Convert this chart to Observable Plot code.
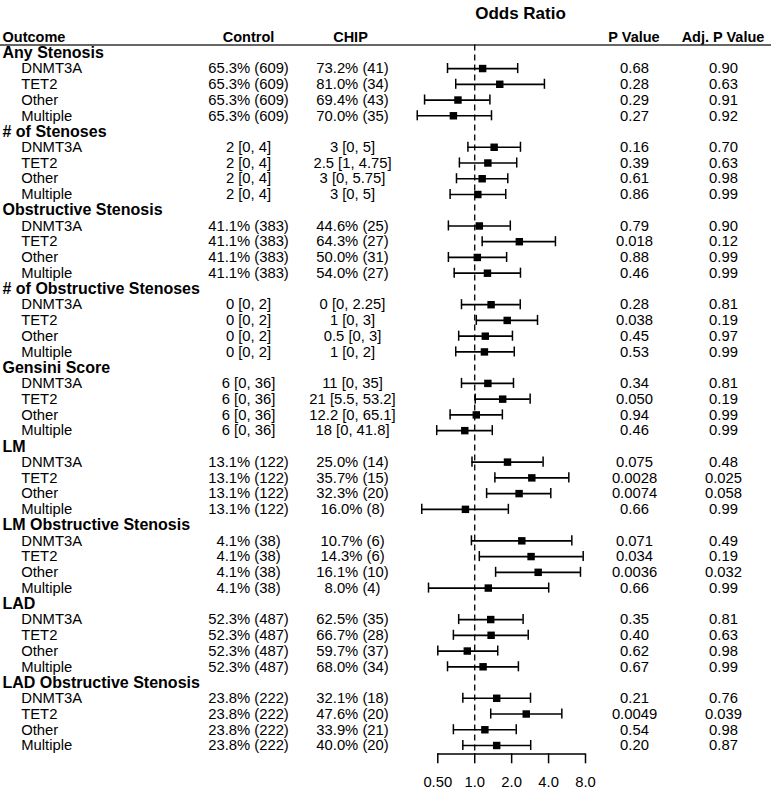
<!DOCTYPE html>
<html>
<head>
<meta charset="utf-8">
<script src="https://cdn.jsdelivr.net/npm/d3@7"></script>
<script src="https://cdn.jsdelivr.net/npm/@observablehq/plot@0.6"></script>
<style>
  html, body { margin: 0; padding: 0; background: #fff; }
  #chart svg { display: block; }
</style>
</head>
<body>
<div id="chart"></div>
<script>
const outcomes = ["Any Stenosis", "# of Stenoses", "Obstructive Stenosis", "# of Obstructive Stenoses",
  "Gensini Score", "LM", "LM Obstructive Stenosis", "LAD", "LAD Obstructive Stenosis"];
const subgroups = ["DNMT3A", "TET2", "Other", "Multiple"];
const controlValues = ["65.3% (609)", "2 [0, 4]", "41.1% (383)", "0 [0, 2]", "6 [0, 36]",
  "13.1% (122)", "4.1% (38)", "52.3% (487)", "23.8% (222)"];
const chipValues = [
  "73.2% (41)", "81.0% (34)", "69.4% (43)", "70.0% (35)",
  "3 [0, 5]", "2.5 [1, 4.75]", "3 [0, 5.75]", "3 [0, 5]",
  "44.6% (25)", "64.3% (27)", "50.0% (31)", "54.0% (27)",
  "0 [0, 2.25]", "1 [0, 3]", "0.5 [0, 3]", "1 [0, 2]",
  "11 [0, 35]", "21 [5.5, 53.2]", "12.2 [0, 65.1]", "18 [0, 41.8]",
  "25.0% (14)", "35.7% (15)", "32.3% (20)", "16.0% (8)",
  "10.7% (6)", "14.3% (6)", "16.1% (10)", "8.0% (4)",
  "62.5% (35)", "66.7% (28)", "59.7% (37)", "68.0% (34)",
  "32.1% (18)", "47.6% (20)", "33.9% (21)", "40.0% (20)"];
const orEstimate = [
  1.16, 1.60, 0.73, 0.67,
  1.44, 1.28, 1.15, 1.06,
  1.09, 2.31, 1.05, 1.27,
  1.36, 1.84, 1.22, 1.20,
  1.28, 1.69, 1.03, 0.83,
  1.85, 2.92, 2.30, 0.84,
  2.42, 2.88, 3.29, 1.29,
  1.35, 1.36, 0.87, 1.17,
  1.51, 2.63, 1.21, 1.51];
const orLower = [
  0.60, 0.70, 0.39, 0.34,
  0.88, 0.75, 0.71, 0.63,
  0.61, 1.15, 0.61, 0.68,
  0.78, 1.03, 0.74, 0.70,
  0.78, 1.01, 0.63, 0.49,
  0.95, 1.46, 1.25, 0.37,
  0.94, 1.09, 1.48, 0.42,
  0.74, 0.67, 0.50, 0.60,
  0.80, 1.35, 0.67, 0.80];
const orUpper = [
  2.24, 3.70, 1.33, 1.37,
  2.36, 2.20, 1.86, 1.79,
  1.95, 4.55, 1.82, 2.36,
  2.35, 3.25, 2.03, 2.10,
  2.07, 2.83, 1.68, 1.39,
  3.61, 5.85, 4.17, 1.88,
  6.19, 7.66, 7.28, 4.01,
  2.48, 2.73, 1.54, 2.27,
  2.85, 5.13, 2.18, 2.86];
const pValues = [
  "0.68", "0.28", "0.29", "0.27",
  "0.16", "0.39", "0.61", "0.86",
  "0.79", "0.018", "0.88", "0.46",
  "0.28", "0.038", "0.45", "0.53",
  "0.34", "0.050", "0.94", "0.46",
  "0.075", "0.0028", "0.0074", "0.66",
  "0.071", "0.034", "0.0036", "0.66",
  "0.35", "0.40", "0.62", "0.67",
  "0.21", "0.0049", "0.54", "0.20"];
const adjPValues = [
  "0.90", "0.63", "0.91", "0.92",
  "0.70", "0.63", "0.98", "0.99",
  "0.90", "0.12", "0.99", "0.99",
  "0.81", "0.19", "0.97", "0.99",
  "0.81", "0.19", "0.99", "0.99",
  "0.48", "0.025", "0.058", "0.99",
  "0.49", "0.19", "0.032", "0.99",
  "0.81", "0.63", "0.98", "0.99",
  "0.76", "0.039", "0.98", "0.87"];
const axisTicks = [0.5, 1, 2, 4, 8];
const tickLabels = ["0.50", "1.0", "2.0", "4.0", "8.0"];
const headers = ["Outcome", "Control", "CHIP", "P Value", "Adj. P Value"];

// Build table rows
const groupRows = [];
const dataRows = [];
outcomes.forEach((o, g) => {
  groupRows.push({row: g * 5, label: o});
  subgroups.forEach((s, k) => {
    const i = g * 4 + k;
    dataRows.push({
      row: g * 5 + k + 1, label: s, control: controlValues[g], chip: chipValues[i],
      est: orEstimate[i], lo: orLower[i], hi: orUpper[i], p: pValues[i], adj: adjPValues[i]
    });
  });
});
const lastRow = outcomes.length * 5 - 1;
const headerRow = -1;
const titleRow = -2.5;
const axisRow = lastRow + 0.54;

const FS = 14.8;
const colText = (key, dx, anchor, extra = {}) =>
  Plot.text(dataRows, {y: "row", text: key, frameAnchor: "left", dx, textAnchor: anchor, fontSize: FS, fill: "#000", ...extra});
const headerText = (i, dx, anchor) =>
  Plot.text([headers[i]], {y: () => headerRow, text: d => d, frameAnchor: "left", dx, textAnchor: anchor,
    fontSize: 14.5, fontWeight: "bold", fill: "#000"});

const chart = Plot.plot({
  width: 771,
  height: 792,
  marginTop: 0, marginLeft: 0, marginRight: 0,
  marginBottom: 38.7,
  style: {fontFamily: "'Liberation Sans', Arial, Helvetica, sans-serif", background: "#fff", color: "#000"},
  x: {type: "log", base: 2, domain: [0.5, 8], range: [437.3, 585]},
  y: {domain: [0, lastRow], range: [52.3, 745], axis: null},
  marks: [
    // title
    Plot.text(["Odds Ratio"], {y: () => titleRow, text: d => d, frameAnchor: "left", dx: 520, textAnchor: "middle",
      fontSize: 17, fontWeight: "bold", fill: "#000"}),
    // headers
    headerText(0, 2, "start"),
    headerText(1, 248, "middle"),
    headerText(2, 350, "middle"),
    headerText(3, 633.5, "middle"),
    headerText(4, 722.5, "middle"),
    Plot.ruleY([headerRow + 0.5], {stroke: "#333", strokeWidth: 1.6}),
    // group labels
    Plot.text(groupRows, {y: "row", text: "label", frameAnchor: "left", dx: 2, textAnchor: "start",
      fontSize: 16, fontWeight: "bold", fill: "#000"}),
    colText("label", 20.7, "start"),
    colText("control", 248, "middle"),
    colText("chip", 352, "middle"),
    colText("p", 634, "middle"),
    colText("adj", 723, "middle"),
    // reference line at OR = 1
    Plot.ruleX([1], {y1: headerRow + 0.5, y2: axisRow, stroke: "#000", strokeWidth: 1.3, strokeDasharray: "6,4"}),
    // CI bars
    Plot.ruleY(dataRows, {y: "row", x1: "lo", x2: "hi", stroke: "#000", strokeWidth: 1.7}),
    Plot.ruleX(dataRows, {x: "lo", y1: d => d.row - 0.32, y2: d => d.row + 0.32, stroke: "#000", strokeWidth: 1.5}),
    Plot.ruleX(dataRows, {x: "hi", y1: d => d.row - 0.32, y2: d => d.row + 0.32, stroke: "#000", strokeWidth: 1.5}),
    Plot.dot(dataRows, {x: "est", y: "row", symbol: "square", r: 4.2, fill: "#000", stroke: "none"}),
    // x axis
    Plot.ruleY([axisRow], {x1: axisTicks[0], x2: axisTicks[axisTicks.length - 1], stroke: "#000", strokeWidth: 1.5}),
    Plot.axisX({ticks: axisTicks, tickFormat: d => tickLabels[axisTicks.indexOf(d)], tickSize: 10, tickPadding: 13,
      fontSize: FS, label: null, anchor: "bottom", stroke: "#000", strokeWidth: 1.5, fill: "#000"})
  ]
});
document.getElementById("chart").appendChild(chart);
</script>
</body>
</html>
